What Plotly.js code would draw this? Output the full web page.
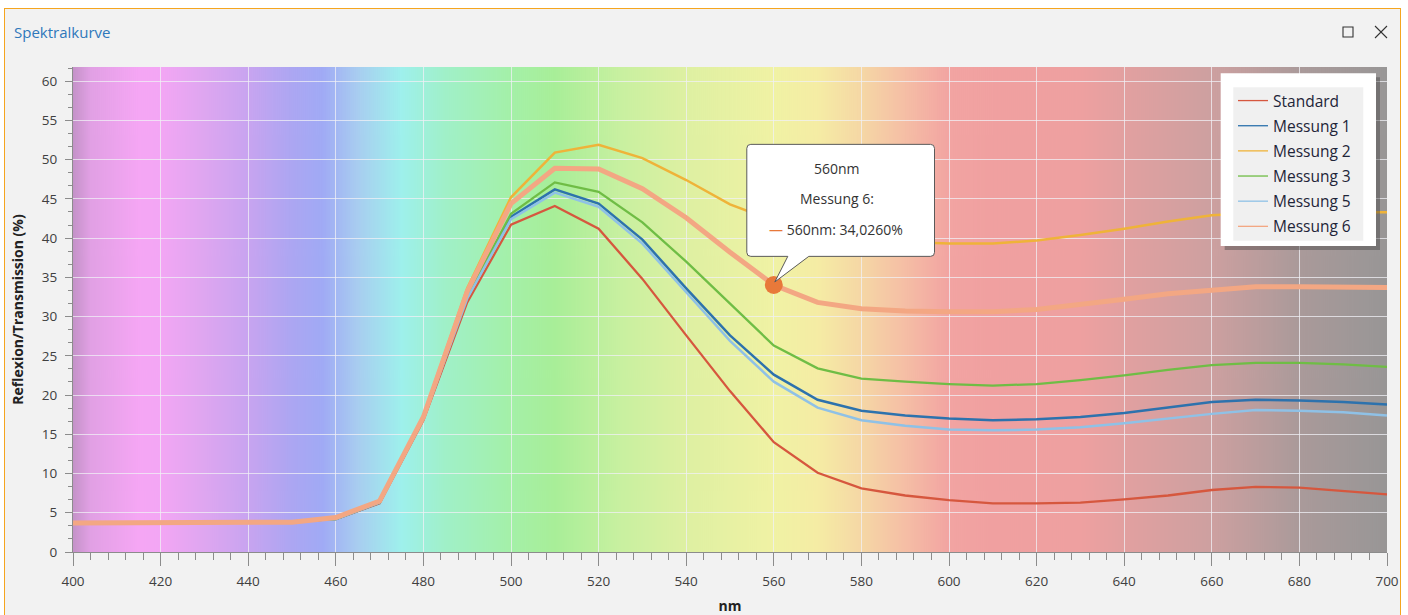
<!DOCTYPE html>
<html>
<head>
<meta charset="utf-8">
<script src="https://cdn.plot.ly/plotly-3.0.1.min.js"></script>
<style>
  html, body { margin:0; padding:0; background:#ffffff; width:1408px; height:615px; overflow:hidden; }
  #frame { position:absolute; left:4px; top:8px; width:1397px; height:620px; border:1px solid #f5a51f; background:#f2f2f2; box-sizing:border-box; }
  #chart { position:absolute; left:0; top:0; width:1408px; height:615px; }
</style>
</head>
<body>
<div id="frame"></div>
<div id="chart"></div>
<script>
// ---------------- data ----------------
const wavelengths = [400,410,420,430,440,450,460,470,480,490,500,510,520,530,540,550,560,570,580,590,600,610,620,630,640,650,660,670,680,690,700];
const standard = [3.8,3.8,3.8,3.8,3.9,3.9,4.2,6.2,16.8,31.8,41.7,44.1,41.2,34.8,27.6,20.5,14.0,10.1,8.1,7.2,6.6,6.2,6.2,6.3,6.7,7.2,7.9,8.3,8.2,7.8,7.35];
const messung1 = [3.8,3.8,3.8,3.8,3.9,3.9,4.2,6.3,17.0,32.5,42.7,46.2,44.4,39.8,33.6,27.6,22.6,19.4,18.0,17.4,17.0,16.8,16.9,17.2,17.7,18.4,19.1,19.4,19.3,19.1,18.8];
const messung2 = [3.8,3.8,3.8,3.8,3.9,3.9,4.3,6.4,17.4,33.6,45.2,50.9,51.9,50.2,47.4,44.3,42.2,40.9,40.1,39.5,39.3,39.3,39.7,40.4,41.2,42.1,42.9,43.2,43.3,43.3,43.3];
const messung3 = [3.8,3.8,3.8,3.8,3.9,3.9,4.2,6.3,17.0,32.6,43.1,47.1,45.9,42.0,37.0,31.7,26.3,23.4,22.1,21.7,21.4,21.2,21.4,21.9,22.5,23.2,23.8,24.1,24.1,23.9,23.6];
const messung5 = [3.8,3.8,3.8,3.8,3.9,3.9,4.2,6.3,17.0,32.3,42.4,45.8,44.0,39.3,33.1,26.9,21.7,18.4,16.8,16.1,15.6,15.5,15.6,15.9,16.4,17.0,17.6,18.1,18.0,17.8,17.4];
const messung6 = [3.7,3.7,3.7,3.7,3.8,3.8,4.4,6.5,17.2,33.2,44.4,48.9,48.8,46.3,42.6,38.2,34.026,31.8,31.0,30.7,30.6,30.6,30.9,31.5,32.2,32.9,33.4,33.8,33.8,33.7,33.7];
const seriesNames = ['Standard','Messung 1','Messung 2','Messung 3','Messung 5','Messung 6'];
const seriesValues = [standard, messung1, messung2, messung3, messung5, messung6];
const tooltipSeries = 'Messung 6';
const tooltipWavelength = 560;
const titleText = 'Spektralkurve';
const xTitle = 'nm';
const yTitle = 'Reflexion/Transmission (%)';

// ---------------- styles ----------------
const colors = ['#d6573e','#2d72ad','#efb339','#6fbd45','#8fc1e6','#f3a783'];
const widths = [2.3,2.5,2.5,2.3,2.5,5];
const FONT = 'Open Sans, Noto Sans, sans-serif';

// plot area in page pixels
const M = {l:73, r:21, t:67, b:63};
const W = 1408, H = 615;
const PW = W - M.l - M.r, PH = H - M.t - M.b;
const px = x => (x - M.l) / PW;
const py = y => (H - M.b - y) / PH;

// spectral background
function spectrumImage() {
  const c = document.createElement('canvas');
  c.width = 1314; c.height = 4;
  const ctx = c.getContext('2d');
  const g = ctx.createLinearGradient(0,0,c.width,0);
  const stops = [
    [400,'rgb(196,146,200)'],[404,'rgb(225,160,228)'],[415,'rgb(245,166,244)'],[420,'rgb(243,166,244)'],
    [430,'rgb(222,166,240)'],[440,'rgb(200,164,240)'],[450,'rgb(172,166,242)'],[457,'rgb(160,170,245)'],
    [465,'rgb(168,205,240)'],[475,'rgb(158,240,236)'],[485,'rgb(160,240,200)'],[500,'rgb(164,240,168)'],
    [510,'rgb(168,238,152)'],[525,'rgb(200,240,160)'],[540,'rgb(222,240,162)'],[560,'rgb(240,242,164)'],
    [570,'rgb(245,236,164)'],[580,'rgb(245,215,165)'],[590,'rgb(245,190,165)'],[600,'rgb(242,164,162)'],
    [610,'rgb(240,160,160)'],[630,'rgb(238,160,160)'],[640,'rgb(226,160,160)'],[660,'rgb(205,160,160)'],
    [670,'rgb(188,157,157)'],[680,'rgb(170,154,154)'],[700,'rgb(152,150,150)']
  ];
  stops.forEach(s => g.addColorStop((s[0]-400)/300, s[1]));
  ctx.fillStyle = g;
  ctx.fillRect(0,0,c.width,c.height);
  return c.toDataURL('image/png');
}

// ---------------- traces ----------------
const traces = [];
seriesNames.forEach((name, i) => {
  traces.push({
    type:'scatter', mode:'lines', name:name, legendgroup:name, showlegend:false,
    x:wavelengths, y:seriesValues[i],
    line:{color:colors[i], width:widths[i]}, hoverinfo:'skip'
  });
});
// legend entries (thin sample lines)
seriesNames.forEach((name, i) => {
  traces.push({
    type:'scatter', mode:'lines', name:name, legendgroup:name, showlegend:true,
    x:[null], y:[null], line:{color:colors[i], width:1.3}, hoverinfo:'skip'
  });
});
// highlighted point
const tIdx = wavelengths.indexOf(tooltipWavelength);
const tSer = seriesNames.indexOf(tooltipSeries);
const tVal = seriesValues[tSer][tIdx];
traces.push({
  type:'scatter', mode:'markers', showlegend:false, hoverinfo:'skip',
  x:[wavelengths[tIdx]], y:[tVal],
  marker:{size:18, color:'#e8793a', line:{width:0}}
});

// ---------------- shapes ----------------
const shapes = [];
// legend box shadow, white box, inner grey
shapes.push({type:'rect', xref:'paper', yref:'paper', layer:'above',
  x0:px(1224.7), x1:px(1380), y0:py(77.3), y1:py(250), fillcolor:'rgba(60,60,60,0.4)', line:{width:0}});
shapes.push({type:'rect', xref:'paper', yref:'paper', layer:'above',
  x0:px(1220.7), x1:px(1376), y0:py(73.3), y1:py(246), fillcolor:'#ffffff', line:{width:0}});
shapes.push({type:'rect', xref:'paper', yref:'paper', layer:'above',
  x0:px(1233.3), x1:px(1363.3), y0:py(87.3), y1:py(240.7), fillcolor:'#f0f0f0', line:{width:0}});
// tooltip callout (pixel offsets relative to the highlighted point, y up)
const L=-27, R=160.7, B=28.6, T=140.6, r=4;
const callout = `M ${L+r},${B} L 14,${B} L 1,3 L 35,${B} L ${R-r},${B} Q ${R},${B} ${R},${B+r} L ${R},${T-r} Q ${R},${T} ${R-r},${T} L ${L+r},${T} Q ${L},${T} ${L},${T-r} L ${L},${B+r} Q ${L},${B} ${L+r},${B} Z`;
shapes.push({type:'path', xref:'x', yref:'y', xsizemode:'pixel', ysizemode:'pixel',
  xanchor:wavelengths[tIdx], yanchor:tVal, path:callout, layer:'above',
  fillcolor:'#ffffff', line:{color:'#5a5a5a', width:1}});
// window icons (maximize square, close cross)
const iconLine = {color:'#333333', width:1.1};
shapes.push({type:'rect', xref:'paper', yref:'paper', x0:px(1343), x1:px(1353), y0:py(27), y1:py(37), line:iconLine, fillcolor:'rgba(0,0,0,0)', layer:'above'});
shapes.push({type:'line', xref:'paper', yref:'paper', x0:px(1375), x1:px(1387), y0:py(26), y1:py(38), line:iconLine, layer:'above'});
shapes.push({type:'line', xref:'paper', yref:'paper', x0:px(1387), x1:px(1375), y0:py(26), y1:py(38), line:iconLine, layer:'above'});

// ---------------- annotations (tooltip text) ----------------
const fmtVal = tVal.toFixed(4).replace('.', ',');
const tipFont = {family:FONT, size:14, color:'#333333'};
const annotations = [
  {x:wavelengths[tIdx], y:tVal, xref:'x', yref:'y', showarrow:false, xshift:63.4, yshift:116.5,
   xanchor:'center', yanchor:'middle', text:wavelengths[tIdx] + 'nm', font:tipFont},
  {x:wavelengths[tIdx], y:tVal, xref:'x', yref:'y', showarrow:false, xshift:63.4, yshift:86.8,
   xanchor:'center', yanchor:'middle', text:tooltipSeries + ':', font:tipFont},
  {x:wavelengths[tIdx], y:tVal, xref:'x', yref:'y', showarrow:false, xshift:62.5, yshift:55.3,
   xanchor:'center', yanchor:'middle',
   text:'<span style="color:#e8793a">—</span> ' + wavelengths[tIdx] + 'nm: ' + fmtVal + '%', font:tipFont}
];

// ---------------- layout ----------------
const axisCol = '#8c8c8c';
const layout = {
  width:W, height:H, margin:M,
  paper_bgcolor:'rgba(0,0,0,0)', plot_bgcolor:'rgba(0,0,0,0)',
  font:{family:FONT, color:'#404040'},
  title:{text:titleText, xref:'container', yref:'container', x:14/W, y:1-33/H,
         xanchor:'left', yanchor:'middle', font:{family:FONT, size:15, color:'#2f78bb'}},
  xaxis:{range:[400,700], tick0:400, dtick:20, ticks:'outside', ticklen:13, tickwidth:1, tickcolor:axisCol,
         showline:true, linecolor:axisCol, linewidth:1, zeroline:false,
         showgrid:true, gridcolor:'rgba(240,240,246,0.75)', gridwidth:1,
         minor:{dtick:4, ticks:'outside', ticklen:7, tickcolor:axisCol, showgrid:false},
         tickfont:{family:FONT, size:13.5, color:'#404040'}, ticklabelstandoff:4,
         title:{text:'<b>'+xTitle+'</b>', standoff:12, font:{family:FONT, size:14, color:'#222222'}},
         fixedrange:true},
  yaxis:{range:[0,61.8], tick0:0, dtick:5, ticks:'outside', ticklen:7, tickwidth:1, tickcolor:axisCol,
         showline:true, linecolor:axisCol, linewidth:1, zeroline:false,
         showgrid:true, gridcolor:'rgba(240,240,246,0.75)', gridwidth:1,
         minor:{dtick:5/3, ticks:'outside', ticklen:4, tickcolor:axisCol, showgrid:false},
         tickfont:{family:FONT, size:13.5, color:'#404040'}, ticklabelstandoff:5,
         title:{text:'<b>'+yTitle+'</b>', standoff:14, font:{family:FONT, size:14, color:'#222222'}},
         fixedrange:true},
  legend:{x:px(1233), y:py(84), xanchor:'left', yanchor:'top', bgcolor:'rgba(0,0,0,0)', borderwidth:0,
          font:{family:FONT, size:15.5, color:'#1e2538'}, itemwidth:30, tracegroupgap:2, traceorder:'grouped'},
  images:[{source:spectrumImage(), xref:'x', yref:'y', x:400, y:61.8, sizex:300, sizey:61.8,
           sizing:'stretch', xanchor:'left', yanchor:'top', layer:'below'}],
  shapes:shapes,
  annotations:annotations,
  hovermode:false
};

Plotly.newPlot('chart', traces, layout, {displayModeBar:false, responsive:false});
</script>
</body>
</html>
